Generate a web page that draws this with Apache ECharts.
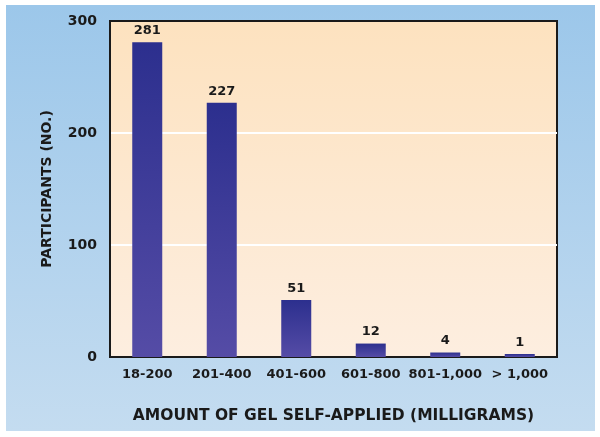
<!DOCTYPE html>
<html><head><meta charset="utf-8">
<script src="https://cdn.jsdelivr.net/npm/echarts@6/dist/echarts.min.js"></script>
<style>html,body{margin:0;padding:0;background:#fff}#c{width:600px;height:437px}</style>
</head><body><div id="c"></div>
<script>
const categories = ['18-200', '201-400', '401-600', '601-800', '801-1,000', '> 1,000'];
const participants = [281, 227, 51, 12, 4, 1];
const yTicks = [0, 100, 200, 300];
const xTitle = 'AMOUNT OF GEL SELF-APPLIED (MILLIGRAMS)';
const yTitle = 'PARTICIPANTS (NO.)';

const FONT = 'DejaVu Sans';
const chart = echarts.init(document.getElementById('c'), null, {renderer: 'canvas'});
chart.setOption({
  animation: false,
  graphic: [{
    type: 'rect', z: -10, silent: true,
    shape: {x: 6, y: 5, width: 589, height: 426},
    style: {fill: new echarts.graphic.LinearGradient(0, 0, 0, 1, [
      {offset: 0, color: '#9cc7ea'}, {offset: 1, color: '#c4dcf0'}])}
  }],
  grid: {
    left: 110, right: 43, top: 21, bottom: 80, show: true,
    backgroundColor: new echarts.graphic.LinearGradient(0, 0, 0, 1, [
      {offset: 0, color: '#fde2bf'}, {offset: 1, color: '#fdeee0'}]),
    borderColor: '#1a1a1a', borderWidth: 2
  },
  xAxis: {
    type: 'category', data: categories,
    axisLine: {show: true, lineStyle: {color: '#1a1a1a', width: 2}},
    axisTick: {show: false},
    axisLabel: {interval: 0, color: '#1a1a1a', fontFamily: FONT, fontWeight: 'bold', fontSize: 13, margin: 11},
    name: xTitle, nameLocation: 'middle', nameGap: 51,
    nameTextStyle: {color: '#1a1a1a', fontFamily: FONT, fontWeight: 'bold', fontSize: 15.5}
  },
  yAxis: {
    type: 'value', min: 0, max: 300, interval: 100,
    axisLine: {show: true, lineStyle: {color: '#1a1a1a', width: 2}},
    axisTick: {show: false},
    axisLabel: {color: '#1a1a1a', fontFamily: FONT, fontWeight: 'bold', fontSize: 14, margin: 13,
      formatter: v => yTicks.includes(v) ? String(v) : ''},
    splitLine: {show: true, lineStyle: {color: ['rgba(0,0,0,0)', '#ffffff', '#ffffff', 'rgba(0,0,0,0)'], width: 2}},
    name: yTitle, nameLocation: 'middle', nameGap: 56, nameRotate: 90,
    nameTextStyle: {color: '#1a1a1a', fontFamily: FONT, fontWeight: 'bold', fontSize: 14}
  },
  series: [{
    type: 'bar', data: participants, barWidth: 30, barMinHeight: 3,
    itemStyle: {color: new echarts.graphic.LinearGradient(0, 0, 0, 1, [
      {offset: 0, color: '#2c2f8e'}, {offset: 1, color: '#554ca6'}])},
    label: {show: true, position: 'top', distance: 5, color: '#1a1a1a', fontFamily: FONT, fontWeight: 'bold', fontSize: 13}
  }]
});
</script></body></html>
